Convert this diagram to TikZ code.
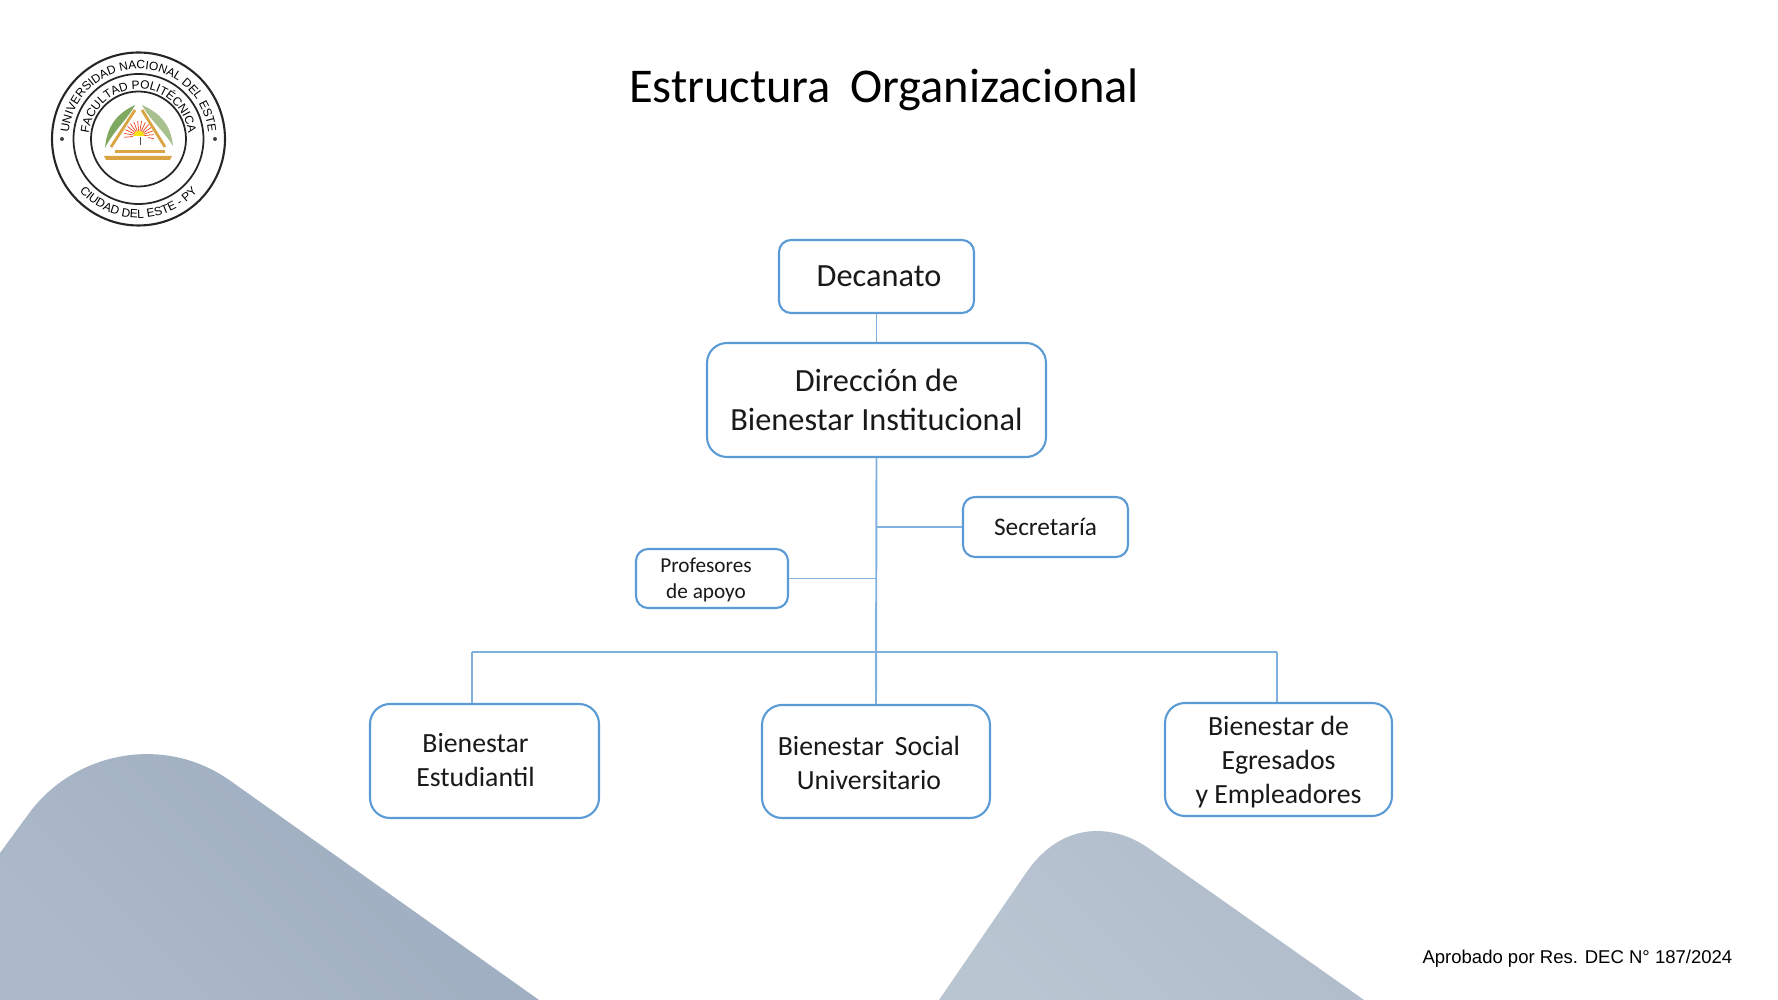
\documentclass[tikz,border=0pt]{standalone}
\usepackage{fontspec}
\setmainfont{Carlito}
\newfontfamily\arialfont{Liberation Sans}
\usetikzlibrary{decorations.text}
\definecolor{azulcaja}{HTML}{5B9BD5}
\definecolor{azullinea}{HTML}{7FB0DE}
\definecolor{fondounoa}{HTML}{9BABBE}
\definecolor{fondounob}{HTML}{ACB9C9}
\definecolor{fondodosa}{HTML}{AFBBCA}
\definecolor{fondodosb}{HTML}{BAC5D2}
\definecolor{oro}{HTML}{D9A441}
\definecolor{hoja}{HTML}{7FA860}
\definecolor{hojaclara}{HTML}{A8BF8E}
\newcommand{\corre}[2]{#2\hspace*{#1}}

\begin{document}
\begin{tikzpicture}[
  caja/.style={draw=azulcaja, line width=0.6pt, fill=white, rounded corners=0.2cm, align=center, text=black!90, inner sep=0pt},
  cajachica/.style={caja, rounded corners=0.12cm},
  linea/.style={draw=azullinea, line width=0.55pt},
  sello/.style={draw=black!85, line width=0.5pt}
]
  \useasboundingbox (0,-10) rectangle (17.78,0);
  % formas de fondo
  \shade[top color=fondounoa, bottom color=fondounob, shading angle=-45] (0,-8.53) -- (0.3,-8.12) .. controls (0.75,-7.52) and (1.65,-7.33) .. (2.32,-7.82) -- (5.39,-10) -- (0,-10) -- cycle;
  \shade[top color=fondodosa, bottom color=fondodosb, shading angle=-45] (9.39,-10) -- (10.26,-8.73) .. controls (10.62,-8.2) and (11.15,-8.23) .. (11.51,-8.5) -- (13.64,-10) -- cycle;

  % titulo y nota
  \node (titulo) at (8.84,-0.90) {\fontsize{13.8pt}{16pt}\selectfont Estructura\, Organizacional};
  \node[anchor=east, inner sep=0pt] (nota) at (17.33,-9.59) {\arialfont\fontsize{5.27pt}{7pt}\selectfont Aprobado por Res. DEC N° 187/2024};

  % cajas
  \node[cajachica, minimum width=1.95cm, minimum height=0.73cm, font=\fontsize{9.2pt}{10pt}\selectfont] (decanato) at (8.765,-2.765) {\hspace*{0.05cm}Decanato};
  \node[caja, minimum width=3.39cm, minimum height=1.14cm, font=\fontsize{9.2pt}{11pt}\selectfont] (direccion) at (8.765,-4.00) {Dirección de\\Bienestar Institucional};
  \node[cajachica, minimum width=1.65cm, minimum height=0.60cm, font=\fontsize{7.2pt}{8pt}\selectfont] (secretaria) at (10.455,-5.27) {Secretaría};
  \node[cajachica, minimum width=1.52cm, minimum height=0.59cm, font=\fontsize{6.05pt}{7.4pt}\selectfont] (profesores) at (7.12,-5.785) {\rule{0pt}{5.2pt}\corre{0.12cm}{Profesores}\\\corre{0.12cm}{de apoyo}};
  \node[caja, minimum width=2.29cm, minimum height=1.14cm, font=\fontsize{7.9pt}{9.8pt}\selectfont] (estudiantil) at (4.845,-7.61) {\corre{0.18cm}{Bienestar}\\\corre{0.18cm}{Estudiantil}\rule[-0.6pt]{0pt}{1pt}};
  \node[caja, minimum width=2.28cm, minimum height=1.13cm, font=\fontsize{7.9pt}{9.8pt}\selectfont] (social) at (8.76,-7.615) {\rule{0pt}{6.4pt}\corre{0.14cm}{Bienestar\, Social}\\\corre{0.14cm}{Universitario}};
  \node[caja, minimum width=2.27cm, minimum height=1.13cm, font=\fontsize{7.9pt}{9.67pt}\selectfont] (egresados) at (12.785,-7.595) {\rule{0pt}{7.2pt}Bienestar de\\Egresados\\y Empleadores};

  % conectores
  \coordinate (busizq) at (4.72,-6.52);
  \coordinate (busder) at (12.77,-6.52);
  \draw[linea] (decanato) -- (direccion);
  \draw[linea] (direccion.south) -- (social.north);
  \draw[linea] (secretaria.west) -- (secretaria.west -| direccion.south);
  \draw[linea] (profesores.east) -- (profesores.east -| direccion.south);
  \draw[linea] (busizq) -- (busder);
  \draw[linea] (busizq) -- (busizq |- estudiantil.north);
  \draw[linea] (busder) -- (busder |- egresados.north);

  % sello
  \coordinate (sellocentro) at (1.385,-1.39);
  \draw[sello, line width=0.6pt] (sellocentro) circle (0.865);
  \draw[sello] (sellocentro) circle (0.65);
  \draw[sello] (sellocentro) circle (0.475);
  \fill[black!75] (0.62,-1.39) circle (0.02);
  \fill[black!75] (2.15,-1.39) circle (0.02);
  \path[decorate, decoration={text along path, text align=center,
    text={|\arialfont\fontsize{3.4pt}{3pt}\selectfont\color{black}|UNIVERSIDAD NACIONAL DEL ESTE}}]
    (sellocentro) ++(172:0.70) arc (172:8:0.70);
  \path[decorate, decoration={text along path, text align=center,
    text={|\arialfont\fontsize{3.4pt}{3pt}\selectfont\color{black}|FACULTAD POLITÉCNICA}}]
    (sellocentro) ++(178:0.50) arc (178:2:0.50);
  \path[decorate, decoration={text along path, text align=center,
    text={|\arialfont\fontsize{3.4pt}{3pt}\selectfont\color{black}|CIUDAD DEL ESTE - PY}}]
    (sellocentro) ++(215:0.79) arc (215:325:0.79);
  % emblema
  \fill[hoja] (1.05,-1.48) .. controls (1.07,-1.25) and (1.18,-1.13) .. (1.35,-1.05) .. controls (1.27,-1.20) and (1.14,-1.30) .. cycle;
  \fill[hojaclara] (1.73,-1.46) .. controls (1.71,-1.25) and (1.60,-1.13) .. (1.42,-1.05) .. controls (1.50,-1.20) and (1.63,-1.30) .. cycle;
  \draw[oro, line width=0.8pt] (1.11,-1.47) -- (1.35,-1.10);
  \draw[oro, line width=0.8pt] (1.65,-1.47) -- (1.42,-1.10);
  \foreach \ang in {-10,5,...,190}
    \draw[red!60!oro, line width=0.2pt] (1.39,-1.36) -- ++(\ang:0.15);
  \fill[yellow!80!oro] (1.39,-1.36) circle (0.055);
  \fill[white] (1.33,-1.45) rectangle (1.48,-1.36);
  \draw[black!70, line width=0.2pt] (1.40,-1.45) -- (1.40,-1.37);
  \fill[oro] (1.15,-1.50) rectangle (1.65,-1.53);
  \fill[oro] (1.04,-1.56) -- (1.72,-1.56) -- (1.70,-1.60) -- (1.06,-1.60) -- cycle;
\end{tikzpicture}
\end{document}
